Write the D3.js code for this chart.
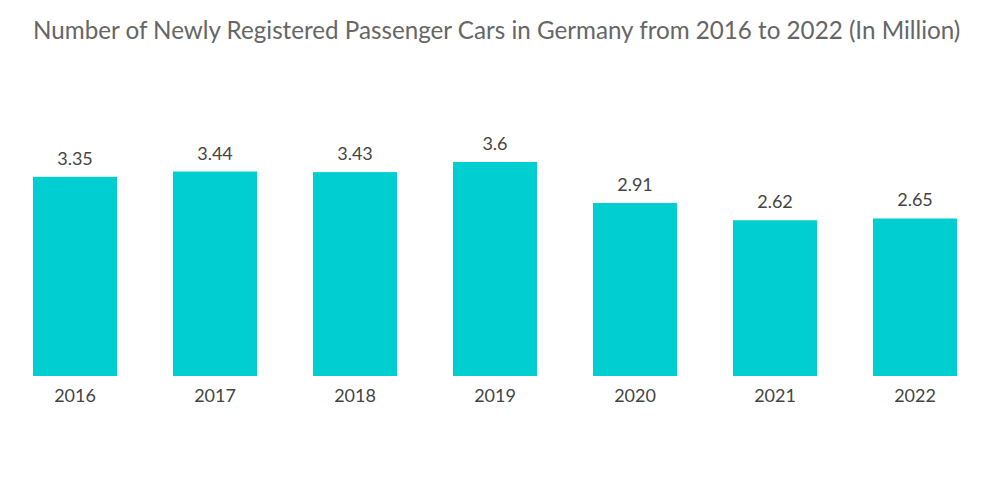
<!DOCTYPE html>
<html>
<head>
<meta charset="utf-8">
<script src="https://cdn.jsdelivr.net/npm/d3@7"></script>
<style>
  body { margin: 0; background: #fff; }
  text { font-family: Lato, "Noto Sans", sans-serif; }
</style>
</head>
<body>
<div id="chart"></div>
<script>
// chart data
var years = ["2016", "2017", "2018", "2019", "2020", "2021", "2022"];
var cars = [3.35, 3.44, 3.43, 3.6, 2.91, 2.62, 2.65];
var title = "Number of Newly Registered Passenger Cars in Germany from 2016 to 2022 (In Million)";

var width = 1000, height = 504;
var baseline = 376;

var svg = d3.select("#chart").append("svg")
    .attr("width", width)
    .attr("height", height);

// title
svg.append("text")
    .attr("x", 33)
    .attr("y", 39)
    .attr("fill", "#666")
    .style("font-size", "24.2px")
    .text(title);

// scales
var x = d3.scaleBand()
    .domain(years)
    .range([5, 985])
    .paddingInner(0.4)
    .paddingOuter(0.2);

var y = d3.scaleLinear()
    .domain([0, 3.6])
    .range([baseline, 162]);

// bars
svg.selectAll(".bar")
    .data(cars)
    .enter().append("rect")
    .attr("class", "bar")
    .attr("x", function(d, i) { return x(years[i]); })
    .attr("width", x.bandwidth())
    .attr("y", function(d) { return y(d); })
    .attr("height", function(d) { return baseline - y(d); })
    .attr("fill", "#00CED1");

// value labels
svg.selectAll(".val")
    .data(cars)
    .enter().append("text")
    .attr("class", "val")
    .attr("x", function(d, i) { return x(years[i]) + x.bandwidth() / 2; })
    .attr("y", function(d) { return y(d) - 12; })
    .attr("text-anchor", "middle")
    .attr("fill", "#444")
    .style("font-size", "18px")
    .text(function(d) { return d; });

// x axis (labels only)
var xAxis = d3.axisBottom(x).tickSize(0).tickPadding(13);
var gx = svg.append("g")
    .attr("transform", "translate(0," + baseline + ")")
    .call(xAxis);
gx.select(".domain").remove();
gx.selectAll("text")
    .attr("fill", "#444")
    .style("font-size", "18px")
    .style("font-family", "Lato, 'Noto Sans', sans-serif");
</script>
</body>
</html>
